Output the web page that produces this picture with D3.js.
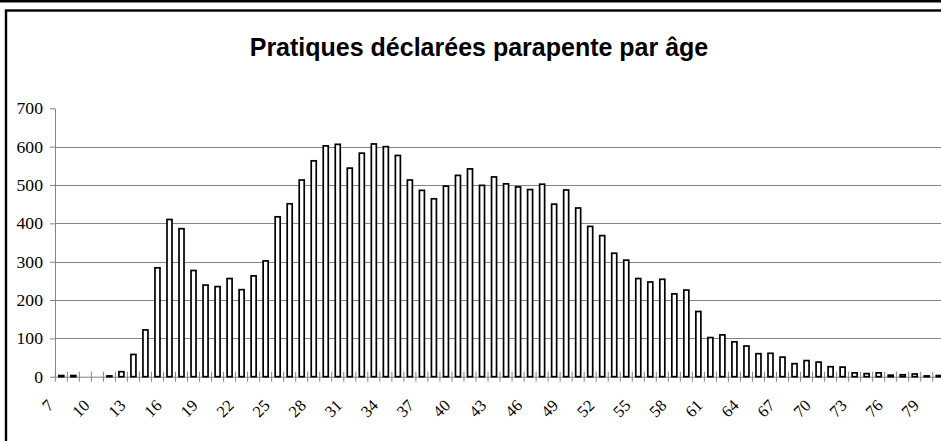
<!DOCTYPE html>
<html>
<head>
<meta charset="utf-8">
<script src="https://cdn.jsdelivr.net/npm/d3@7"></script>
<style>
  html, body { margin: 0; padding: 0; background: #fff; }
  svg { display: block; }
</style>
</head>
<body>
<script>
const ages = [7,8,9,10,11,12,13,14,15,16,17,18,19,20,21,22,23,24,25,26,27,28,29,30,31,32,33,34,35,36,37,38,39,40,41,42,43,44,45,46,47,48,49,50,51,52,53,54,55,56,57,58,59,60,61,62,63,64,65,66,67,68,69,70,71,72,73,74,75,76,77,78,79,80];
const practices = [3,3,0,0,2,13,58,122,284,410,386,277,239,235,256,227,263,302,417,451,513,563,602,606,544,583,607,600,577,513,486,464,497,525,542,499,521,503,495,488,502,450,487,440,392,368,322,304,256,247,254,216,226,170,102,109,91,80,60,61,51,34,42,38,26,25,10,8,10,4,5,7,2,3];
const tickLabels = ["7","10","13","16","19","22","25","28","31","34","37","40","43","46","49","52","55","58","61","64","67","70","73","76","79"];
const yTicks = [0,100,200,300,400,500,600,700];
const title = "Pratiques déclarées parapente par âge";

const W = 941, H = 441;
const svg = d3.select("body").append("svg").attr("width", W).attr("height", H);

svg.append("rect").attr("x",0).attr("y",0).attr("width",W).attr("height",2.5).attr("fill","#000");
svg.append("rect").attr("x",6).attr("y",10.5).attr("width",1200).attr("height",600)
  .attr("fill","none").attr("stroke","#000").attr("stroke-width",2.4);

svg.append("text").attr("x",479).attr("y",56).attr("text-anchor","middle")
  .attr("font-family","'Liberation Sans', Arial, sans-serif").attr("font-weight","bold")
  .attr("font-size",25).text(title);

const x0 = 55.3, step = 12.02;
const x = d3.scaleBand().domain(ages).range([x0, x0 + step*ages.length]).padding(0);
const y = d3.scaleLinear().domain([0,700]).range([376.7, 108.3]);
const barW = 5;
const serif = "'Liberation Serif', 'Times New Roman', serif";

const gridColor = "#858585";
svg.append("g").selectAll("line").data(yTicks.filter(v => v > 0 && v < 700)).join("line")
  .attr("x1", x0).attr("x2", W).attr("y1", d => Math.round(y(d))+0.5).attr("y2", d => Math.round(y(d))+0.5)
  .attr("stroke", gridColor).attr("stroke-width", 1);

const yAxis = svg.append("g").attr("transform", `translate(${x0-0.3},0)`)
  .call(d3.axisLeft(y).tickValues(yTicks).tickSize(5).tickSizeOuter(0).tickFormat(d3.format("d")));
yAxis.select(".domain").attr("stroke", gridColor);
yAxis.selectAll(".tick line").attr("stroke", gridColor);
yAxis.selectAll(".tick text")
  .attr("x", 0).attr("dy", "0.34em")
  .attr("transform", "translate(-12,0) scale(1.07,1)")
  .attr("font-family", serif)
  .attr("font-size", 16.5).attr("fill", "#000");

const xAxis = svg.append("g").attr("transform", `translate(0,${y(0)})`)
  .call(d3.axisBottom(x).tickValues([]).tickSizeOuter(0));
xAxis.select(".domain").attr("stroke", gridColor);

svg.append("g").selectAll("line").data(ages).join("line")
  .attr("x1", d => x(d)).attr("x2", d => x(d))
  .attr("y1", y(0)-5).attr("y2", y(0)+5)
  .attr("stroke", gridColor).attr("stroke-width", 1);

svg.append("g").selectAll("rect").data(ages.map((a,i)=>({a, v: practices[i]})).filter(d => d.v > 0)).join("rect")
  .attr("x", d => x(d.a) + (x.bandwidth()-barW)/2)
  .attr("width", barW)
  .attr("y", d => y(d.v))
  .attr("height", d => Math.max(0, y(0) - y(d.v)))
  .attr("fill", "#fff").attr("stroke", "#000").attr("stroke-width", 1.7);

svg.append("g").selectAll("text").data(tickLabels).join("text")
  .attr("transform", d => `translate(${x(+d) - 4.7},402.5) rotate(-45)`)
  .attr("text-anchor", "end").attr("dy", "0.34em")
  .attr("font-family", serif)
  .attr("font-size", 16.5).attr("fill", "#000")
  .text(d => d);
</script>
</body>
</html>
